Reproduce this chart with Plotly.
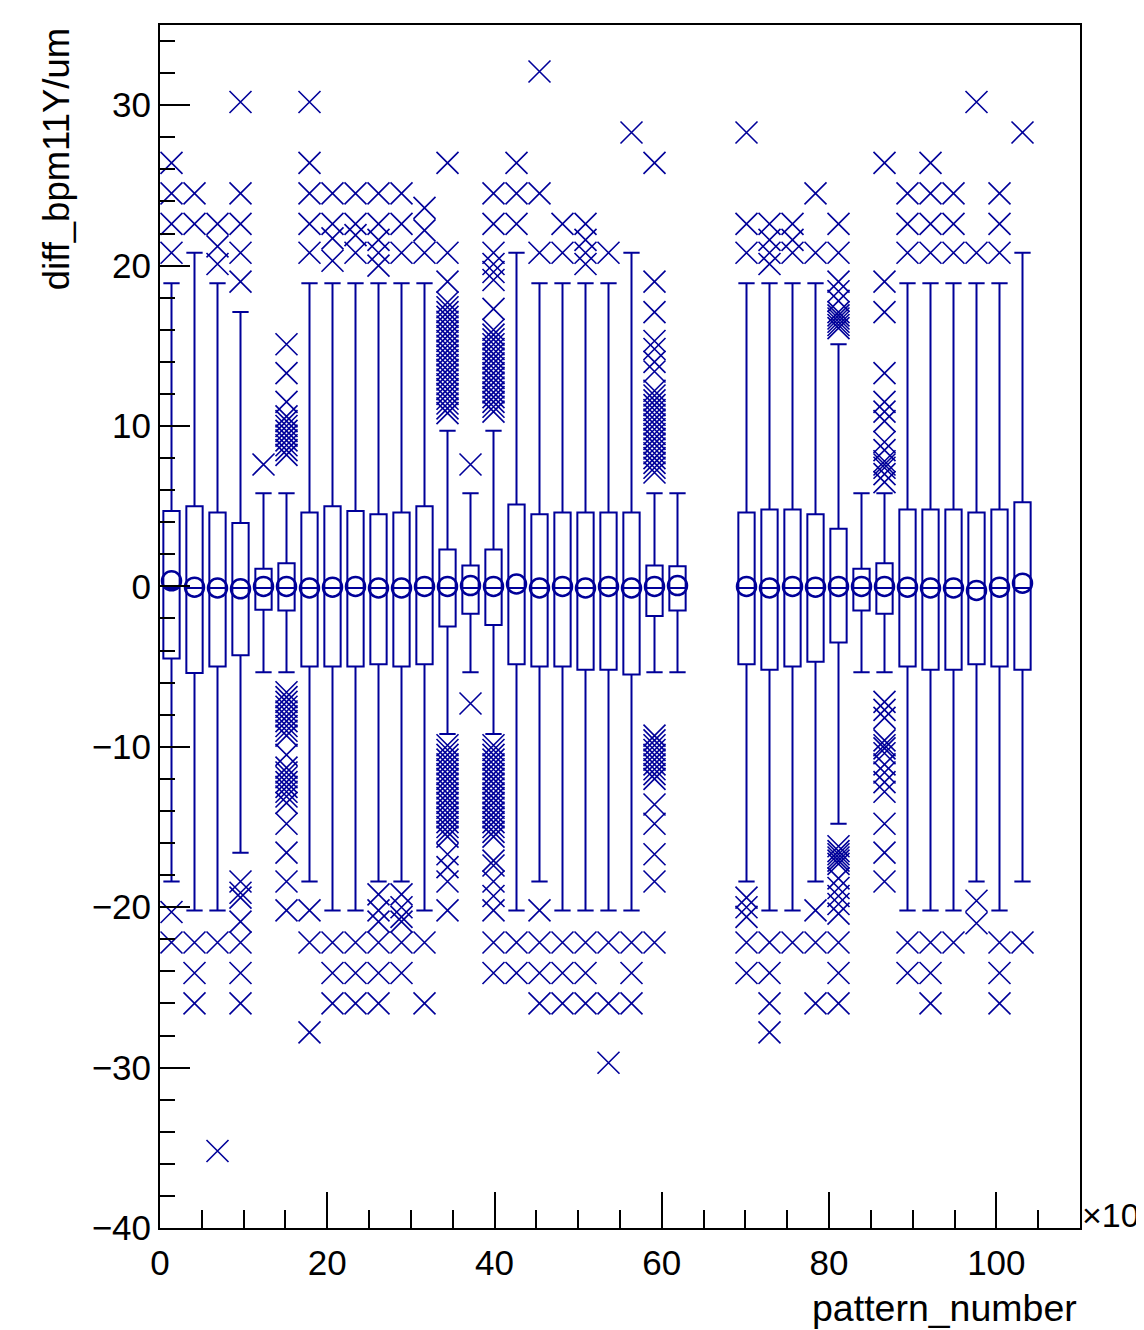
import plotly.graph_objects as go

# ---------------- data ----------------
pattern = [1.375, 4.125, 6.875, 9.625, 12.375, 15.125, 17.875, 20.625, 23.375, 26.125,
           28.875, 31.625, 34.375, 37.125, 39.875, 42.625, 45.375, 48.125, 50.875, 53.625,
           56.375, 59.125, 61.875, 70.125, 72.875, 75.625, 78.375, 81.125, 83.875, 86.625,
           89.375, 92.125, 94.875, 97.625, 100.375, 103.125]

q3 = [4.7, 5.0, 4.6, 3.95, 1.1, 1.45, 4.6, 5.0, 4.7, 4.5, 4.6, 5.0, 2.3, 1.3, 2.3, 5.1, 4.5, 4.6,
      4.6, 4.6, 4.6, 1.3, 1.25, 4.6, 4.8, 4.8, 4.5, 3.6, 1.1, 1.45, 4.8, 4.8, 4.8, 4.6, 4.8, 5.25]
q1 = [-4.5, -5.4, -5.0, -4.3, -1.45, -1.5, -5.0, -5.0, -5.0, -4.85, -5.0, -4.85, -2.5, -1.7, -2.4,
      -4.85, -5.0, -5.0, -5.2, -5.2, -5.5, -1.85, -1.5, -4.85, -5.2, -5.0, -4.7, -3.5, -1.5, -1.7,
      -5.0, -5.2, -5.2, -4.85, -5.0, -5.2]
median = [-0.1] * 36
upper_whisker = [18.9, 20.8, 18.9, 17.1, 5.8, 5.8, 18.9, 18.9, 18.9, 18.9, 18.9, 18.9, 9.7, 5.8,
                 9.7, 20.8, 18.9, 18.9, 18.9, 18.9, 20.8, 5.8, 5.8, 18.9, 18.9, 18.9, 18.9, 15.1,
                 5.8, 5.8, 18.9, 18.9, 18.9, 18.9, 18.9, 20.8]
lower_whisker = [-18.4, -20.2, -20.2, -16.6, -5.35, -5.35, -18.4, -20.2, -20.2, -18.4, -18.4,
                 -20.2, -9.2, -5.35, -9.2, -20.2, -18.4, -20.2, -20.2, -20.2, -20.2, -5.35, -5.35,
                 -18.4, -20.2, -20.2, -18.4, -14.8, -5.35, -5.35, -20.2, -20.2, -20.2, -18.4,
                 -20.2, -18.4]
mean = [0.35, -0.05, -0.1, -0.15, 0.0, 0.0, -0.1, -0.05, 0.0, -0.1, -0.1, 0.0, 0.0, 0.05, 0.0,
        0.15, -0.1, 0.0, -0.1, 0.0, -0.1, 0.0, 0.05, 0.0, -0.1, 0.0, -0.05, 0.0, 0.0, 0.0,
        -0.05, -0.1, -0.1, -0.25, -0.05, 0.2]

outliers_high = [
    [26.4, 24.5, 22.6, 20.8],
    [24.5, 22.6],
    [22.6, 21.2, 20.1],
    [30.2, 24.5, 22.6, 20.8, 19.0],
    [7.6],
    [15.1, 13.3, 11.5, 10.6, 10.3, 10.0, 9.7, 9.4, 9.1, 8.8, 8.5, 8.2],
    [30.2, 26.4, 24.5, 22.6, 20.8],
    [24.5, 22.6, 21.7, 20.3],
    [24.5, 22.6, 21.9, 20.8],
    [24.5, 22.6, 21.6, 20.8, 20.0],
    [24.5, 22.6, 20.8],
    [23.6, 22.2, 20.8],
    [26.4, 20.8, 19.0, 17.7, 17.4, 17.1, 16.8, 16.5, 16.2, 15.9, 15.6, 15.3, 15.0, 14.7, 14.4,
     14.1, 13.8, 13.5, 13.2, 12.9, 12.6, 12.3, 12.0, 11.7, 11.4, 11.1, 10.8],
    [7.6],
    [24.5, 22.6, 20.8, 20.1, 19.6, 19.1, 17.3, 16.0, 15.7, 15.4, 15.1, 14.8, 14.5, 14.2, 13.9,
     13.6, 13.3, 13.0, 12.7, 12.4, 12.1, 11.8, 11.5, 11.2, 10.9],
    [26.4, 24.5, 22.6],
    [32.1, 24.5, 20.8],
    [22.6, 20.8],
    [22.6, 21.6, 20.8, 20.1],
    [20.8],
    [28.3],
    [26.4, 19.0, 17.1, 15.3, 14.8, 14.0, 13.4, 12.2, 11.9, 11.6, 11.3, 11.0, 10.7, 10.4, 10.1,
     9.8, 9.5, 9.2, 8.9, 8.6, 8.3, 8.0, 7.7, 7.4, 7.1],
    [],
    [28.3, 22.6, 20.8],
    [22.6, 21.6, 20.8, 20.1],
    [22.6, 21.6, 20.8],
    [24.5, 20.8],
    [22.6, 20.8, 19.0, 18.4, 17.8, 17.1, 16.9, 16.7, 16.5, 16.3, 16.1],
    [],
    [26.4, 19.0, 17.1, 13.3, 11.5, 10.9, 10.3, 9.0, 8.5, 7.8, 7.6, 7.4, 7.0, 6.5],
    [24.5, 22.6, 20.8],
    [26.4, 24.5, 22.6, 20.8],
    [24.5, 22.6, 20.8],
    [30.2, 20.8],
    [24.5, 22.6, 20.8],
    [28.3],
]

outliers_low = [
    [-20.3, -22.2],
    [-22.2, -24.1, -26.0],
    [-22.2, -35.2],
    [-18.4, -19.1, -19.4, -20.9, -22.2, -24.1, -26.0],
    [],
    [-6.6, -6.9, -7.2, -7.5, -7.8, -8.1, -8.4, -8.7, -9.0, -9.3, -10.5, -11.3, -11.6, -11.9,
     -12.2, -12.5, -12.8, -13.1, -13.5, -14.8, -16.6, -18.4, -20.2],
    [-20.2, -22.2, -27.8],
    [-22.2, -24.1, -26.0],
    [-22.2, -24.1, -26.0],
    [-19.2, -20.2, -20.9, -22.2, -24.1, -26.0],
    [-19.2, -20.0, -20.6, -20.9, -22.2, -24.1],
    [-22.2, -26.0],
    [-9.9, -10.2, -10.5, -10.8, -11.1, -11.4, -11.7, -12.0, -12.3, -12.6, -12.9, -13.2, -13.5,
     -13.8, -14.1, -14.4, -14.7, -15.0, -15.3, -15.6, -16.7, -17.5, -18.4, -20.2],
    [-7.3],
    [-9.9, -10.2, -10.5, -10.8, -11.1, -11.4, -11.7, -12.0, -12.3, -12.6, -12.9, -13.2, -13.5,
     -13.8, -14.1, -14.4, -14.7, -15.0, -15.3, -15.6, -17.1, -17.4, -18.4, -19.3, -20.2,
     -22.2, -24.1],
    [-22.2, -24.1],
    [-20.2, -22.2, -24.1, -26.0],
    [-22.2, -24.1, -26.0],
    [-22.2, -24.1, -26.0],
    [-22.2, -26.0, -29.7],
    [-22.2, -24.1, -26.0],
    [-9.3, -9.6, -9.9, -10.2, -10.5, -10.8, -11.1, -11.4, -11.7, -12.0, -13.6, -14.8, -16.7,
     -18.4, -22.2],
    [],
    [-19.4, -20.0, -20.6, -22.2, -24.1],
    [-22.2, -24.1, -26.0, -27.8],
    [-22.2],
    [-20.2, -22.2, -26.0],
    [-16.2, -16.5, -16.7, -16.9, -17.1, -17.3, -18.2, -18.8, -19.3, -19.8, -20.4, -22.2,
     -24.1, -26.0],
    [],
    [-7.2, -7.7, -8.2, -9.6, -9.9, -10.1, -10.4, -11.1, -11.6, -12.2, -12.8, -14.8, -16.6, -18.4],
    [-22.2, -24.1],
    [-22.2, -24.1, -26.0],
    [-22.2],
    [-19.6, -21.0],
    [-22.2, -24.1, -26.0],
    [-22.2],
]

x_ticks = [0, 20, 40, 60, 80, 100]
y_ticks = [-40, -30, -20, -10, 0, 10, 20, 30]
x_title = "pattern_number"
y_title = "diff_bpm11Y/um"
x_exponent = "×10"

# ---------------- figure ----------------
BLUE = "#000099"
FONT = "Liberation Sans, Arial, Helvetica, sans-serif"

out_x, out_y = [], []
for xc, hi, lo in zip(pattern, outliers_high, outliers_low):
    for v in hi + lo:
        out_x.append(xc)
        out_y.append(v)

fig = go.Figure()

fig.add_trace(go.Box(
    x=pattern, q1=q1, median=median, q3=q3,
    lowerfence=lower_whisker, upperfence=upper_whisker,
    width=1.95, whiskerwidth=1,
    line=dict(color=BLUE, width=2),
    fillcolor="rgba(0,0,0,0)",
    boxpoints=False, showlegend=False, hoverinfo="skip",
))

fig.add_trace(go.Scatter(
    x=out_x, y=out_y, mode="markers",
    marker=dict(symbol="x-thin", size=22, color=BLUE,
                line=dict(color=BLUE, width=1.6)),
    showlegend=False, hoverinfo="skip",
))

fig.add_trace(go.Scatter(
    x=pattern, y=mean, mode="markers",
    marker=dict(symbol="circle-open", size=19, color=BLUE,
                line=dict(color=BLUE, width=2.5)),
    showlegend=False, hoverinfo="skip",
))

# the page body adds an 8px offset, so the figure is 8px smaller and margins shifted
fig.update_layout(
    width=1136, height=1322, autosize=False,
    margin=dict(l=152, r=64, t=17, b=102),
    paper_bgcolor="white", plot_bgcolor="white",
    font=dict(family=FONT, size=35, color="black"),
    showlegend=False,
)

fig.update_xaxes(
    range=[0, 110], tickvals=x_ticks, ticks="inside", ticklen=36, tickwidth=2,
    tickcolor="black", showline=True, linecolor="black", linewidth=2, mirror=True,
    showgrid=False, zeroline=False, tickfont=dict(size=35), ticklabelstandoff=3,
    minor=dict(dtick=5, ticks="inside", ticklen=18, tickwidth=2, tickcolor="black",
               showgrid=False),
)
fig.update_yaxes(
    range=[-40, 35], tickvals=y_ticks, ticks="inside", ticklen=30, tickwidth=2,
    tickcolor="black", showline=True, linecolor="black", linewidth=2, mirror=True,
    showgrid=False, zeroline=False, tickfont=dict(size=35), ticklabelstandoff=0,
    minor=dict(dtick=2, ticks="inside", ticklen=15, tickwidth=2, tickcolor="black",
               showgrid=False),
)

fig.add_annotation(text=y_title, textangle=-90, xref="paper", yref="paper",
                   x=-0.113, y=0.999, xanchor="center", yanchor="top",
                   showarrow=False, font=dict(size=36.5, family=FONT, color="black"))
fig.add_annotation(text=x_title, xref="paper", yref="paper",
                   x=0.999, y=-0.0665, xanchor="right", yanchor="middle",
                   showarrow=False, font=dict(size=37.5, family=FONT, color="black"))
fig.add_annotation(text=x_exponent, xref="paper", yref="paper",
                   x=1.0, y=0.011, xanchor="left", yanchor="middle",
                   showarrow=False, font=dict(size=34, family=FONT, color="black"))

fig.write_html("out.html", config={"displayModeBar": False})
